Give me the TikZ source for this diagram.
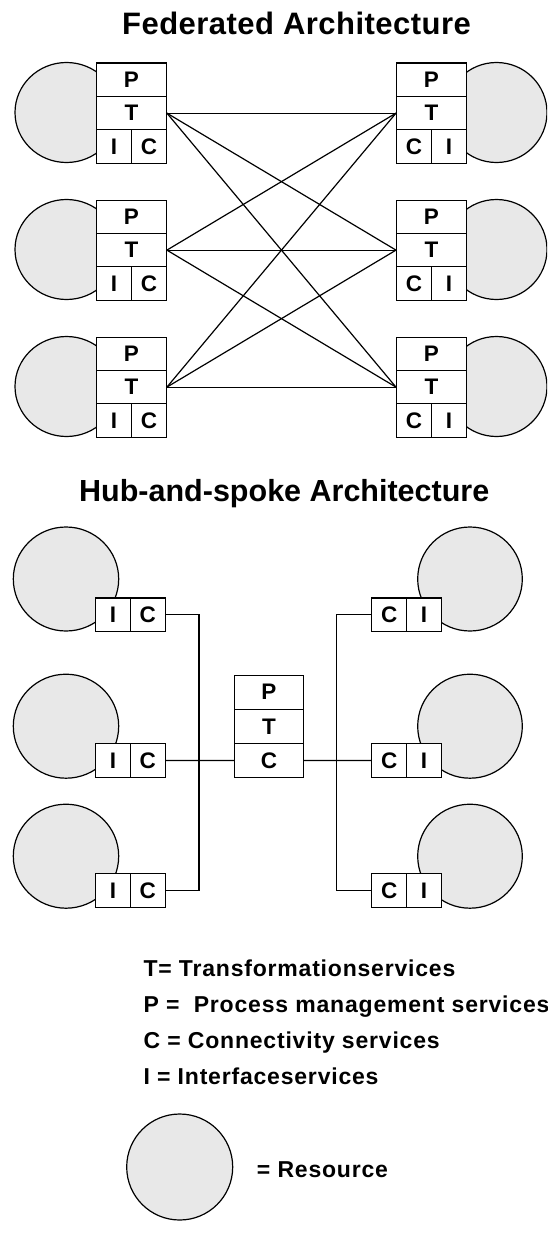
\documentclass[tikz,border=0pt]{standalone}
\usepackage{fontspec}
\setmainfont{Liberation Sans}
\newfontfamily\legfont{Liberation Sans}[LetterSpace=3.5]
\newfontfamily\ttlfont{Liberation Sans}[LetterSpace=1.5]
\usetikzlibrary{shapes.geometric}
\definecolor{resfill}{RGB}{232,232,232}
\tikzset{
  cell/.style={draw, fill=white, line width=1.2pt, inner sep=0pt,
    minimum width=69.7pt, minimum height=33.4pt, anchor=north west,
    font=\fontsize{22.5}{25}\selectfont\bfseries},
  halfcell/.style={cell, minimum width=34.85pt},
  hcell/.style={halfcell, minimum height=33.5pt},
  res/.style={draw, fill=resfill, line width=1.2pt, ellipse, inner sep=0pt},
  wire/.style={line width=1.2pt},
  ttl/.style={anchor=base west, inner sep=0pt, font=\ttlfont\fontsize{31}{36}\selectfont\bfseries},
  ttlb/.style={anchor=base west, inner sep=0pt, font=\fontsize{30.5}{36}\selectfont\bfseries},
  leg/.style={anchor=base west, inner sep=0pt, font=\legfont\fontsize{23}{27}\selectfont\bfseries},
}
\begin{document}
\begin{tikzpicture}[x=1pt, y=-1pt]
\clip (0,0) rectangle (547,1247);
\fill[white] (0,0) rectangle (547,1247);

% ---------- Federated ----------
\node[ttl] (ftitle) at (122,34.3) {Federated Architecture};
\foreach \r/\t in {1/62.5,2/199.5,3/336.5} {
  \node[res, minimum width=103pt, minimum height=100pt] (fl\r-r) at (66.5,\t+50) {};
  \node[res, minimum width=101pt, minimum height=100pt] (fr\r-r) at (496.5,\t+50) {};
  \node[cell] (fl\r-p) at (96,\t) {P};
  \node[cell] (fl\r-t) at (96,\t+33.33) {T};
  \node[halfcell] (fl\r-i) at (96,\t+66.67) {I};
  \node[halfcell] (fl\r-c) at (130.85,\t+66.67) {C};
  \node[cell] (fr\r-p) at (396,\t) {P};
  \node[cell] (fr\r-t) at (396,\t+33.33) {T};
  \node[halfcell] (fr\r-c) at (396,\t+66.67) {C};
  \node[halfcell] (fr\r-i) at (430.85,\t+66.67) {I};
}
\foreach \a in {1,2,3} {
  \foreach \b in {1,2,3} {
    \draw[wire] (fl\a-t.east) -- (fr\b-t.west);
  }
}

% ---------- Hub and spoke ----------
\node[ttlb] (htitle) at (79,501.7) {Hub-and-spoke Architecture};
\foreach \r/\t/\c in {1/597.3/579,2/743.2/726.2,3/873/856.2} {
  \node[res, minimum width=105.4pt, minimum height=104pt] (hl\r-r) at (66,\c) {};
  \node[res, minimum width=104.6pt, minimum height=104pt] (hr\r-r) at (470,\c) {};
  \node[hcell] (hl\r-i) at (94.9,\t) {I};
  \node[hcell] (hl\r-c) at (129.75,\t) {C};
  \node[hcell] (hr\r-c) at (371.2,\t) {C};
  \node[hcell] (hr\r-i) at (406.05,\t) {I};
}
\node[cell, minimum width=69.1pt, minimum height=34.3pt] (hub-p) at (233.8,674.5) {P};
\node[cell, minimum width=69.1pt, minimum height=34.3pt] (hub-t) at (233.8,708.8) {T};
\node[cell, minimum width=69.1pt, minimum height=33.5pt] (hub-c) at (233.8,743.1) {C};

\coordinate (lbus) at (199,0);
\coordinate (rbus) at (336.7,0);
\draw[wire] (hl1-c.east) -| (lbus |- hl3-c.east) -- (hl3-c.east);
\draw[wire] (hl2-c.east) -- (hub-c.west);
\draw[wire] (hr1-c.west) -| (rbus |- hr3-c.west) -- (hr3-c.west);
\draw[wire] (hub-c.east) -- (hr2-c.west);

% ---------- Legend ----------
\node[leg] (legT) at (143.3,976) {T= Transformationservices};
\node[leg] (legP) at (143.3,1012) {P =\ \ Process management services};
\node[leg] (legC) at (143.3,1048) {C = Connectivity services};
\node[leg] (legI) at (143.3,1084) {I = Interfaceservices};
\node[res, minimum width=106pt, minimum height=106pt] (legR) at (179.7,1167) {};
\node[leg] (legRtxt) at (256.7,1177) {= Resource};
\end{tikzpicture}
\end{document}
